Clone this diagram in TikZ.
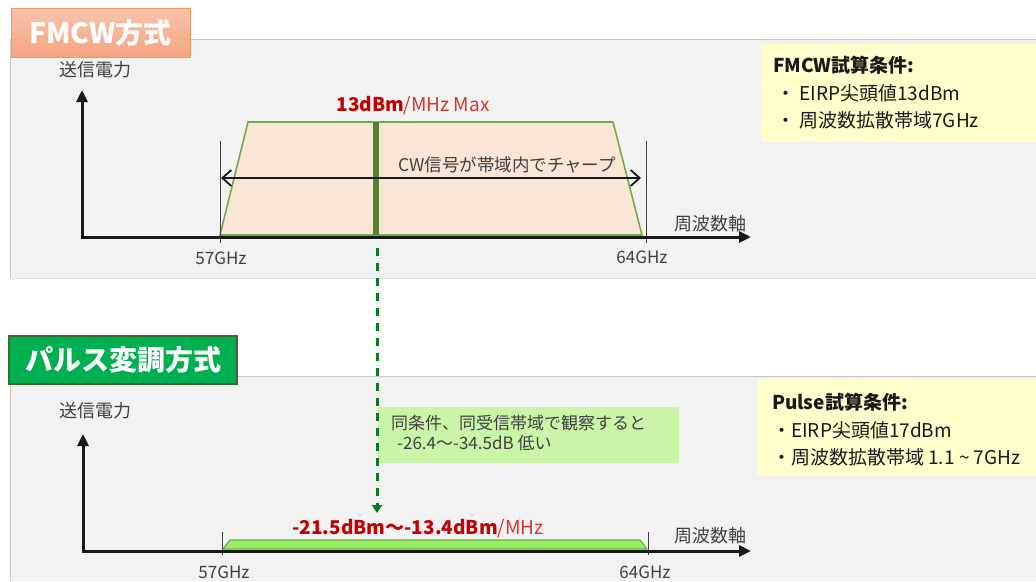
\documentclass[tikz,border=0pt]{standalone}
\usepackage{fontspec}
\setmainfont{Noto Sans CJK JP}
\usetikzlibrary{arrows.meta,shadings}
\definecolor{panelbg}{HTML}{F2F2F2}
\definecolor{panelline}{HTML}{C8C8C8}
\definecolor{txtgray}{HTML}{404040}
\definecolor{fmcwtop}{HTML}{F8C4AC}
\definecolor{fmcwbot}{HTML}{F4A47F}
\definecolor{fmcwedge}{HTML}{F2995F}
\definecolor{pulsefill}{HTML}{00B050}
\definecolor{pulseedge}{HTML}{3C6A2C}
\definecolor{trapfill}{HTML}{FBE5D6}
\definecolor{trapedge}{HTML}{70AD47}
\definecolor{dkgreen}{HTML}{548235}
\definecolor{dashgreen}{HTML}{0A7A1E}
\definecolor{notefill}{HTML}{C8F5A8}
\definecolor{pulsetrap}{HTML}{98EE64}
\definecolor{condfill}{HTML}{FFFFCC}
\definecolor{dred}{HTML}{C00000}
\definecolor{lred}{HTML}{D93030}
\begin{document}
\begin{tikzpicture}[x=1pt,y=-1pt,
  lbl/.style={inner sep=0, text=txtgray, font=\fontsize{18}{21}\selectfont},
  cond/.style={inner sep=0, anchor=west, text=black!90, font=\fontsize{19}{22}\selectfont},
  head/.style={inner sep=0, text=white, font=\fontsize{28}{32}\selectfont\bfseries},
  axis/.style={line width=3pt, black!90, {Triangle[length=12pt,width=11pt]}-{Triangle[length=12pt,width=11pt]}},
  trap/.style={draw=trapedge, line width=1.6pt, line join=round},
  tickline/.style={line width=0.8pt, black!75},
  chirp/.style={line width=2.4pt, black!90, {Straight Barb[length=9pt,width=16pt,line width=1.8pt]}-{Straight Barb[length=9pt,width=16pt,line width=1.8pt]}},
  redlbl/.style={inner sep=0, text=lred, font=\fontsize{19}{22}\selectfont},
]
\useasboundingbox (0,0) rectangle (1036,581);
\fill[white] (0,0) rectangle (1036,581);

% ---------- panels ----------
\fill[panelbg] (10,39) rectangle (1036,278);
\draw[panelline, line width=0.8pt] (10,278) -- (10,39) -- (1036,39);
\draw[panelline!60, line width=0.6pt] (10,278) -- (1036,278);
\fill[panelbg] (10,376) rectangle (1036,581);
\draw[panelline, line width=0.8pt] (10,581) -- (10,376) -- (1036,376);

% ---------- headers ----------
\node[head, draw=fmcwedge, line width=1pt, top color=fmcwtop, bottom color=fmcwbot,
      minimum width=179pt, minimum height=49pt] (hfmcw) at (100.5,32.5) {FMCW方式};
\node[head, draw=pulseedge, line width=1.2pt, fill=pulsefill,
      minimum width=228pt, minimum height=48pt] (hpulse) at (123,360) {パルス変調方式};

% ---------- condition boxes ----------
\fill[condfill] (761,44) rectangle (1036,141);
\node[cond, font=\fontsize{19}{22}\selectfont\bfseries] (c1t) at (773,65) {FMCW試算条件:};
\node[cond] (c1a) at (776,93) {・ EIRP尖頭値13dBm};
\node[cond] (c1b) at (776,120) {・ 周波数拡散帯域7GHz};

\fill[condfill] (757,379) rectangle (1036,476);
\node[cond, font=\fontsize{19}{22}\selectfont\bfseries] (c2t) at (772,402) {Pulse試算条件:};
\node[cond] (c2a) at (772,430) {・EIRP尖頭値17dBm};
\node[cond] (c2b) at (772,457) {・周波数拡散帯域 1.1 \char"007E{} 7GHz};

% ---------- FMCW chart ----------
\coordinate (o1) at (82,237);
\coordinate (y1) at (82,90);
\coordinate (x1) at (751,237);
\coordinate (t1a) at (220,235);
\coordinate (t1b) at (248,122);
\coordinate (t1c) at (613,122);
\coordinate (t1d) at (642,235);
\fill[trapfill] (t1a) -- (t1b) -- (t1c) -- (t1d) -- cycle;
\draw[trap] (t1a) -- (t1b) -- (t1c) -- (t1d) -- cycle;
\coordinate (cwtop) at (376,122);
\coordinate (cwbot) at (376,235);
\draw[dkgreen, line width=6pt] (cwtop) -- (cwbot);
\coordinate (k1a) at (220,141); \coordinate (k1b) at (220,243);
\coordinate (k2a) at (646,141); \coordinate (k2b) at (646,243);
\draw[tickline] (k1a) -- (k1b);
\draw[tickline] (k2a) -- (k2b);
\coordinate (ch1) at (221,178); \coordinate (ch2) at (641,178);
\draw[chirp] (ch1) -- (ch2);
\draw[axis] (y1) -- (o1) -- (x1);

\node[lbl] (pw1) at (95,70) {送信電力};
\node[lbl] (fa1) at (710,224) {周波数軸};
\node[lbl, font=\fontsize{17}{20}\selectfont] (f57a) at (221,258) {57GHz};
\node[lbl, font=\fontsize{17}{20}\selectfont] (f64a) at (642,257) {64GHz};
\node[lbl, font=\fontsize{17.5}{20}\selectfont] (cw) at (507,165) {CW信号が帯域内でチャープ};
\node[redlbl] (pk1) at (413,106) {\textcolor{dred}{\bfseries 13dBm}/MHz Max};

% ---------- Pulse chart ----------
\coordinate (o2) at (83,551);
\coordinate (y2) at (83,434);
\coordinate (x2) at (751,551);
\coordinate (t2a) at (223,549);
\coordinate (t2b) at (230,540);
\coordinate (t2c) at (640,540);
\coordinate (t2d) at (647,549);
\fill[pulsetrap] (t2a) -- (t2b) -- (t2c) -- (t2d) -- cycle;
\draw[trap, line width=1.3pt] (t2a) -- (t2b) -- (t2c) -- (t2d) -- cycle;
\coordinate (k3a) at (222,532); \coordinate (k3b) at (222,555);
\coordinate (k4a) at (648,532); \coordinate (k4b) at (648,555);
\draw[tickline] (k3a) -- (k3b);
\draw[tickline] (k4a) -- (k4b);
\draw[axis] (y2) -- (o2) -- (x2);

\node[lbl] (pw2) at (95,411) {送信電力};
\node[lbl] (fa2) at (710,536) {周波数軸};
\node[lbl, font=\fontsize{17}{20}\selectfont] (f57b) at (224,572) {57GHz};
\node[lbl, font=\fontsize{17}{20}\selectfont] (f64b) at (645,572) {64GHz};
\node[redlbl] (pk2) at (418,529) {\textcolor{dred}{\bfseries -21.5dBm～-13.4dBm}/MHz};

% ---------- comparison note ----------
\fill[notefill] (378,407) rectangle (679,463);
\node[lbl, anchor=west, font=\fontsize{17}{20}\selectfont] (n1) at (391,423) {同条件、同受信帯域で観察すると};
\node[lbl, anchor=west, font=\fontsize{17}{20}\selectfont] (n2) at (397,443) {-26.4～-34.5dB 低い};

% ---------- dashed link ----------
\coordinate (d1) at (377,248);
\coordinate (d2) at (377,513);
\draw[dashgreen, line width=3pt, dash pattern=on 8pt off 7pt,
      -{Triangle[length=8pt,width=10pt]}] (d1) -- (d2);
\end{tikzpicture}
\end{document}
